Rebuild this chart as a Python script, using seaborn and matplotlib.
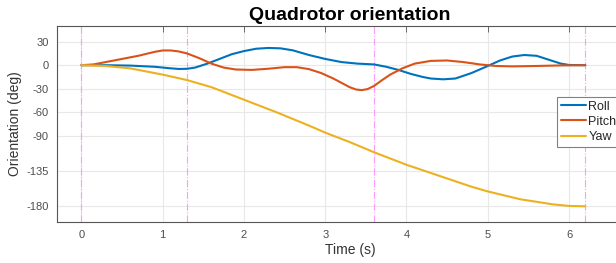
import numpy as np
import pandas as pd
import matplotlib
matplotlib.use("Agg")
import matplotlib.pyplot as plt
import seaborn as sns

# Values
roll_t = [0, 0.3, 0.6, 0.9, 1.1, 1.2, 1.3, 1.4, 1.55, 1.7, 1.85, 2.0, 2.15, 2.3, 2.45,
          2.6, 2.8, 3.0, 3.2, 3.4, 3.6, 3.75, 3.9, 4.05, 4.2, 4.3, 4.45, 4.6, 4.8, 5.0,
          5.15, 5.3, 5.45, 5.6, 5.75, 5.9, 6.0, 6.2]
roll = [0, 0, -0.5, -2, -4, -4.8, -4.6, -3, 2, 8, 14, 18, 21, 22, 21.5,
        19, 13, 8, 4, 2, 1, -2, -6, -11, -15, -17, -18, -17, -10, -1,
        6, 11, 13, 12, 7, 2, 0.3, 0]

pitch_t = [0, 0.15, 0.3, 0.5, 0.7, 0.9, 1.0, 1.1, 1.2, 1.3, 1.45, 1.6, 1.75, 1.9,
           2.1, 2.3, 2.5, 2.65, 2.8, 2.95, 3.1, 3.2, 3.3, 3.38, 3.45, 3.52, 3.6, 3.7,
           3.8, 3.95, 4.1, 4.3, 4.5, 4.7, 4.9, 5.1, 5.3, 5.6, 5.9, 6.2]
pitch = [0, 1, 4, 8, 12, 17, 18.8, 18.8, 17.5, 15, 9, 2, -3, -5.5,
         -6, -4.5, -2.5, -2.5, -5, -10, -17, -22.5, -28, -31, -31.8, -30.5, -26.5, -19,
         -12, -4, 2, 5.5, 6, 4, 1, -1, -1.5, -1, -0.3, 0]

yaw_t = [0, 0.3, 0.6, 1.0, 1.3, 1.6, 2.0, 2.4, 2.8, 3.0, 3.3, 3.6, 4.0, 4.4,
         4.8, 5.0, 5.4, 5.8, 6.0, 6.2]
yaw = [0, -1, -4, -12, -19, -28, -44, -60, -77, -86, -98, -111, -127, -141,
       -155, -161, -171, -177.5, -179.5, -180]

waypoint_times = [0, 1.3, 3.6, 6.2]
x_ticks = [0, 1, 2, 3, 4, 5, 6]
y_ticks = [-180, -135, -90, -60, -30, 0, 30]

df = pd.concat([
    pd.DataFrame({"t": roll_t, "deg": roll, "angle": "Roll"}),
    pd.DataFrame({"t": pitch_t, "deg": pitch, "angle": "Pitch"}),
    pd.DataFrame({"t": yaw_t, "deg": yaw, "angle": "Yaw"}),
], ignore_index=True)

sns.set_style("white")
plt.rcParams["font.family"] = ["Liberation Sans", "DejaVu Sans"]
plt.rcParams["axes.unicode_minus"] = False

fig = plt.figure(figsize=(6.16, 2.63), dpi=100)
ax = fig.add_axes([57 / 616, 1 - 222 / 263, 586 / 616, 196 / 263])

# waypoint markers
for t in waypoint_times:
    ax.axvline(t, color="#ff99ff", linestyle="-.", linewidth=0.8, zorder=2)

palette = {"Roll": "#0072BD", "Pitch": "#D95319", "Yaw": "#EDB120"}
sns.lineplot(data=df, x="t", y="deg", hue="angle", palette=palette,
             linewidth=1.5, ax=ax, estimator=None, zorder=3)

ax.set_xlim(-0.3, 6.91)
ax.set_ylim(-200, 50)
ax.set_xticks(x_ticks)
ax.set_yticks(y_ticks)
ax.grid(True, color="#e8e8e8", linewidth=0.8, zorder=0)
ax.tick_params(direction="in", top=True, right=True, length=4, width=0.6,
               colors="#555555", labelsize=8, labelcolor="#4d4d4d", pad=6)
for s in ax.spines.values():
    s.set_color("#555555")
    s.set_linewidth(0.8)

ax.set_xlabel("Time (s)", fontsize=10, color="#333333", labelpad=2)
ax.set_ylabel("Orientation (deg)", fontsize=10, color="#333333", labelpad=3)
ax.set_title("Quadrotor orientation", fontsize=14, fontweight="bold", pad=4,
             color="#000000")

leg = ax.legend(loc="upper left", bbox_to_anchor=(557 / 616, 1 - 97 / 263),
                bbox_transform=fig.transFigure, frameon=True, fancybox=False,
                fontsize=9, handlelength=2.0, handletextpad=0.2,
                borderpad=0.3, labelspacing=0.25, borderaxespad=0)
leg.get_frame().set_edgecolor("#808080")
leg.get_frame().set_linewidth(0.8)
leg.get_frame().set_alpha(1)

fig.savefig("out.png", dpi=100)
